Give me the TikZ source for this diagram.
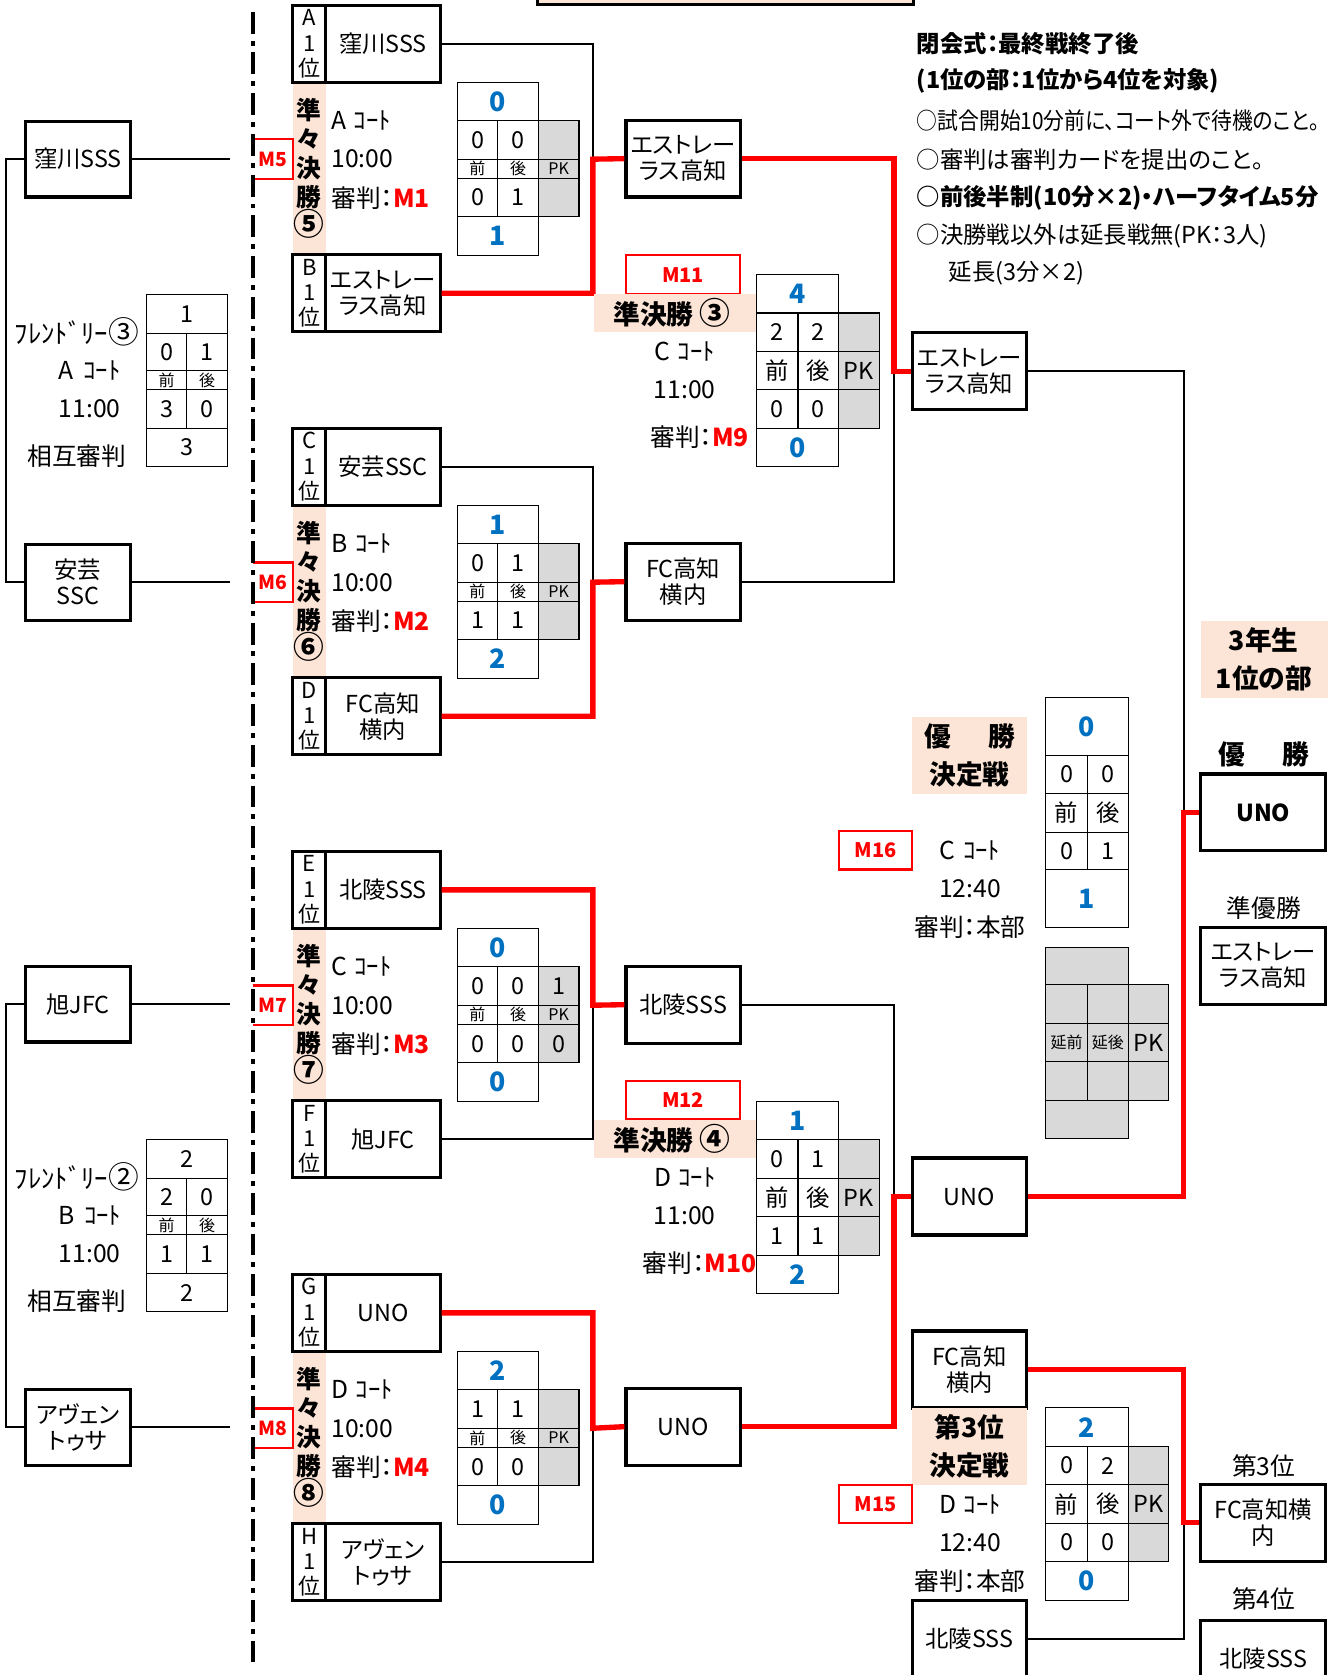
\documentclass[tikz,border=0pt]{standalone}
\usepackage{fontspec}
\setmainfont{Noto Sans CJK JP}[RawFeature=+palt]
\newfontfamily\narrowfont{Noto Sans CJK JP}[FakeStretch=0.89, RawFeature=+palt]
\usepackage{tikz}
\usetikzlibrary{positioning}
\definecolor{Peach}{RGB}{252,228,214}
\definecolor{Cell}{RGB}{217,217,217}
\definecolor{Score}{RGB}{0,112,192}
\definecolor{Mred}{RGB}{255,0,0}
\newcommand{\circnum}[1]{{\fontsize{23pt}{20pt}\selectfont #1}}

\begin{document}
\begin{tikzpicture}[x=0.8pt, y=-0.8pt]
			\tikzstyle{Team}	= [draw, line width=2.4pt, minimum width=85.6pt, minimum height=57.6pt, inner sep=0pt, align=center, font=\fontsize{17.5pt}{19.5pt}\selectfont]
			\tikzstyle{Side}	= [Team, minimum width=78.4pt, minimum height=56.8pt]
			\tikzstyle{Prize}	= [Team, minimum width=93.6pt]
			\tikzstyle{Letter}	= [draw, line width=2.4pt, minimum width=24.8pt, minimum height=57.6pt, inner sep=0pt, align=center, font=\fontsize{16.5pt}{19pt}\selectfont]
			\tikzstyle{Info}	= [inner sep=0pt, anchor=west, font=\fontsize{18.5pt}{20pt}\selectfont]
			\tikzstyle{Txt}		= [inner sep=0pt, align=center, font=\fontsize{18.5pt}{20pt}\selectfont]
			\tikzstyle{Head}	= [inner sep=0pt, align=center, font=\fontsize{20pt}{28.8pt}\selectfont\bfseries]
			\tikzstyle{Mark}	= [inner sep=0pt, text=Mred, font=\fontsize{14.5pt}{16pt}\selectfont\bfseries]
			\tikzstyle{MarkLine}= [draw=Mred, line width=1.6pt]
			\tikzstyle{Win}		= [line width=4pt, Mred]
			\tikzstyle{Lose}	= [line width=1.6pt, black]
			\tikzstyle{Tbl}		= [line width=0.8pt]
			\tikzstyle{Num}		= [inner sep=0pt, font=\fontsize{17.5pt}{19pt}\selectfont]
			\tikzstyle{Goal}	= [inner sep=0pt, text=Score, font=\fontsize{20pt}{22pt}\selectfont\bfseries]
			\tikzstyle{Half}	= [inner sep=0pt, font=\fontsize{12pt}{13pt}\selectfont]
			\tikzstyle{Note}	= [inner sep=0pt, anchor=west, font=\fontsize{17.5pt}{19pt}\selectfont]
			\tikzstyle{BNote}	= [Note, font=\fontsize{17.5pt}{19pt}\selectfont\bfseries]

			\useasboundingbox (0,0) rectangle (1243,1568);

			% heading box and notes
			\filldraw[fill=Peach, line width=2.4pt] (503,-20) rectangle (855,4);
			\node (n1) at (858,41) [BNote] {閉会式：最終戦終了後};
			\node (n2) at (858,76) [BNote] {(1位の部：1位から4位を対象)};
			\node (n3) at (858,113) [Note, font=\narrowfont\fontsize{17.5pt}{19pt}\selectfont] {○試合開始10分前に、コート外で待機のこと。};
			\node (n4) at (858,149) [Note] {○審判は審判カードを提出のこと。};
			\node (n5) at (858,185) [BNote] {○前後半制(10分×2)・ハーフタイム5分};
			\node (n6) at (858,221) [Note] {○決勝戦以外は延長戦無(PK：3人)};
			\node (n7) at (888,256) [Note] {延長(3分×2)};

			% friendly matches
			\node (l1) at (73,149) [Side] {窪川SSS};
			\node (l2) at (73,545) [Side] {安芸\\SSC};
			\node (l3) at (73,940) [Side] {旭JFC};
			\node (l4) at (73,1336) [Side] {アヴェン\\トゥサ};
			\coordinate (e1) at (215,149);
			\coordinate (e2) at (215,545);
			\coordinate (e3) at (215,940);
			\coordinate (e4) at (215,1336);
			\draw (l1.west) -- ++(-17,0) |- (l2.west) [Lose];
			\draw (l3.west) -- ++(-17,0) |- (l4.west) [Lose];
			\draw (l1.east) -- (e1) [Lose];
			\draw (l2.east) -- (e2) [Lose];
			\draw (l3.east) -- (e3) [Lose];
			\draw (l4.east) -- (e4) [Lose];

			\foreach \n/\y/\tp/\ha/\hb/\ka/\kb/\bt/\fr/\ct in {fa/276/1/0/1/3/0/3/③/A, fb/1067/2/2/0/1/1/2/②/B}
			{
				\begin{scope}[shift={(0,\y)}]
					\draw[Tbl] (137,0) rectangle (213,36) (137,36) rectangle (213,125) (137,71) -- (213,71) (137,89) -- (213,89) (175,36) -- (175,125) (137,125) rectangle (213,161);
					\node (\n g) at (175,18) [Num] {\tp};
					\node (\n a) at (156,53.5) [Num] {\ha};
					\node (\n b) at (194,53.5) [Num] {\hb};
					\node (\n c) at (156,80) [Half] {前};
					\node (\n d) at (194,80) [Half] {後};
					\node (\n e) at (156,107) [Num] {\ka};
					\node (\n f) at (194,107) [Num] {\kb};
					\node (\n k) at (175,143) [Num] {\bt};
					\node (\n l) at (72,35) [Txt, font=\fontsize{20pt}{22pt}\selectfont] {ﾌﾚﾝﾄﾞﾘｰ\circnum{\fr}};
					\node (\n m) at (84,71) [Txt] {\ct\hspace{0.4em}ｺｰﾄ};
					\node (\n t) at (84,107) [Txt] {11:00};
					\node (\n r) at (72,151) [Txt] {相互審判};
				\end{scope}
			}

			% quarter final winners
			\node (w1) at (639.5,148.5) [Team] {エストレー\\ラス高知};
			\node (w2) at (639.5,544.5) [Team] {FC高知\\横内};
			\node (w3) at (639.5,940.5) [Team] {北陵SSS};
			\node (w4) at (639.5,1335.5) [Team] {UNO};

			% quarter finals
			\foreach \i/\la/\lb/\ta/\tb/\ct/\rf/\mn/\cn/\lo/\wi in {
				1/A/B/窪川SSS/エストレー\\ラス高知/A/M1/M5/⑤/a/b,
				2/C/D/安芸SSC/FC高知\\横内/B/M2/M6/⑥/a/b,
				3/E/F/北陵SSS/旭JFC/C/M3/M7/⑦/b/a,
				4/G/H/UNO/アヴェン\\トゥサ/D/M4/M8/⑧/b/a}
			{
				\begin{scope}[shift={(0,{396*(\i-1)})}]
					\fill[Peach] (274,77) rectangle (305,238);
					\node (ql\i a) at (289.5,41) [Letter] {\la\\1\\位};
					\node (qa\i) at (358.5,41) [Team] {\ta};
					\node (qs\i) at (289.5,157.5) [Head, font=\fontsize{18.5pt}{21.6pt}\selectfont\bfseries] {準\\々\\決\\勝\\\circnum{\cn}};
					\node (ql\i b) at (289.5,274.5) [Letter] {\lb\\1\\位};
					\node (qb\i) at (358.5,274.5) [Team] {\tb};
					\node (qc\i) at (310,113) [Info] {\ct\hspace{0.3em}ｺｰﾄ};
					\node (qt\i) at (310,149) [Info] {10:00};
					\node (qr\i) at (310,185) [Info] {審判：\textcolor{Mred}{\bfseries\rf}};
					\node (qm\i) at (255.5,149) [Mark, minimum width=30pt, minimum height=29.2pt] {\mn};
					\draw (qm\i.north west) -| (qm\i.south east) -- (qm\i.south west) [MarkLine];
					% score table
					\draw[Tbl] (428,77) rectangle (504,113) (428,203) rectangle (504,239);
					\filldraw[Tbl, fill=Cell] (504,113) rectangle (542,203);
					\draw[Tbl] (428,113) rectangle (504,203) (428,149) -- (542,149) (428,167) -- (542,167) (466,113) -- (466,203);
					\node (qh\i a) at (447,158) [Half] {前};
					\node (qh\i b) at (485,158) [Half] {後};
					\node (qh\i c) at (523,158) [Half] {PK};
					% connectors
					\coordinate (qj\i) at (555,149);
					\draw (q\lo\i.east) -| (qj\i) [Lose];
					\draw (q\wi\i.east) -| (qj\i) -- (w\i.west) [Win];
				\end{scope}
			}
			\foreach \i/\tp/\ha/\hb/\hp/\ka/\kb/\kp/\bt in {1/0/0/0/{}/0/1/{}/1, 2/1/0/1/{}/1/1/{}/2, 3/0/0/0/1/0/0/0/0, 4/2/1/1/{}/0/0/{}/0}
			{
				\begin{scope}[shift={(0,{396*(\i-1)})}]
					\node (qg\i) at (466,95) [Goal] {\tp};
					\node (qn\i a) at (447,131) [Num] {\ha};
					\node (qn\i b) at (485,131) [Num] {\hb};
					\node (qn\i c) at (523,131) [Num] {\hp};
					\node (qn\i d) at (447,185) [Num] {\ka};
					\node (qn\i e) at (485,185) [Num] {\kb};
					\node (qn\i f) at (523,185) [Num] {\kp};
					\node (qk\i) at (466,221) [Goal] {\bt};
				\end{scope}
			}

			% dash-dot divider
			\draw[line width=3.2pt, dash pattern=on 16.4pt off 5.2pt on 3.7pt off 5.2pt] (236.5,11) -- (236.5,1556);

			% semi finals
			\node (s1) at (907.5,347.5) [Team] {エストレー\\ラス高知};
			\node (s2) at (907.5,1120) [Team] {UNO};
			\coordinate (sj1) at (837,347.5);
			\coordinate (sj2) at (837,1120);
			\draw (w2.east) -| (sj1) [Lose];
			\draw (w1.east) -| (sj1) -- (s1.west) [Win];
			\draw (w3.east) -| (sj2) [Lose];
			\draw (w4.east) -| (sj2) -- (s2.west) [Win];

			\node (m11) at (639.5,257) [Mark, font=\fontsize{15pt}{16pt}\selectfont\bfseries] {M11};
			\draw (586,239) rectangle (693,275) [MarkLine];
			\fill[Peach] (556,275) rectangle (708,311);
			\node (sh1) at (629,293) [Head] {準決勝 \circnum{③}};
			\node (sc1) at (641,329) [Txt] {C\hspace{0.3em}ｺｰﾄ};
			\node (st1) at (641,365) [Txt] {11:00};
			\node (sr1) at (655,409) [Txt] {審判：\textcolor{Mred}{\bfseries M9}};

			\node (m12) at (639.5,1030) [Mark, font=\fontsize{15pt}{16pt}\selectfont\bfseries] {M12};
			\draw (586,1012) rectangle (693,1048) [MarkLine];
			\fill[Peach] (556,1048) rectangle (708,1084);
			\node (sh2) at (629,1066) [Head] {準決勝 \circnum{④}};
			\node (sc2) at (641,1102) [Txt] {D\hspace{0.3em}ｺｰﾄ};
			\node (st2) at (641,1138) [Txt] {11:00};
			\node (sr2) at (655,1182) [Txt] {審判：\textcolor{Mred}{\bfseries M10}};

			% tables with PK column
			\foreach \n/\x/\y/\tp/\ha/\hb/\ka/\kb/\bt in {pa/708/257/4/2/2/0/0/0, pb/708/1031/1/0/1/1/1/2, pc/979/1318/2/0/2/0/0/0}
			{
				\begin{scope}[shift={(\x,\y)}]
					\draw[Tbl] (0,0) rectangle (77,36) (0,144) rectangle (77,180);
					\filldraw[Tbl, fill=Cell] (77,36) rectangle (115,144);
					\draw[Tbl] (0,36) rectangle (77,144) (0,72) -- (115,72) (0,108) -- (115,108) (39,36) -- (39,144);
					\node (\n g) at (38.5,18) [Goal] {\tp};
					\node (\n a) at (19.5,54) [Num] {\ha};
					\node (\n b) at (58,54) [Num] {\hb};
					\node (\n c) at (19.5,90) [Num] {前};
					\node (\n d) at (58,90) [Num] {後};
					\node (\n e) at (96,90) [Num] {PK};
					\node (\n f) at (19.5,126) [Num] {\ka};
					\node (\n h) at (58,126) [Num] {\kb};
					\node (\n k) at (38.5,162) [Goal] {\bt};
				\end{scope}
			}

			% final
			\fill[Peach] (854,671) rectangle (961,743);
			\node (fh) at (907.5,707) [Head] {優\hspace{1.4em}勝\\決定戦};
			\node (m16) at (819.5,796) [Mark, font=\fontsize{15pt}{16pt}\selectfont\bfseries] {M16};
			\draw (785,778) rectangle (854,814) [MarkLine];
			\node (fc) at (908,796) [Txt] {C\hspace{0.3em}ｺｰﾄ};
			\node (ft) at (908,832) [Txt] {12:40};
			\node (fr) at (908,868) [Txt] {審判：本部};
			\draw[Tbl] (979,653) rectangle (1056,707) (979,707) rectangle (1056,814) (979,743) -- (1056,743) (979,779) -- (1056,779) (1018,707) -- (1018,814) (979,814) rectangle (1056,868);
			\node (fg) at (1017.5,680) [Goal] {0};
			\node (fa) at (998.5,725) [Num] {0};
			\node (fb) at (1037,725) [Num] {0};
			\node (fm) at (998.5,761) [Num] {前};
			\node (fn) at (1037,761) [Num] {後};
			\node (fd) at (998.5,797) [Num] {0};
			\node (fe) at (1037,797) [Num] {1};
			\node (fk) at (1017.5,841) [Goal] {1};
			\filldraw[Tbl, fill=Cell] (979,887) rectangle (1056,922) (979,922) rectangle (1094,1030) (979,1030) rectangle (1056,1066);
			\draw[Tbl] (979,958) -- (1094,958) (979,994) -- (1094,994) (1018,922) -- (1018,1030) (1056,922) -- (1056,1030);
			\node (xa) at (998.5,976) [Half] {延前};
			\node (xb) at (1037,976) [Half] {延後};
			\node (xc) at (1075,976) [Num] {PK};

			% champion and runner-up
			\fill[Peach] (1124,581) rectangle (1243,653);
			\node (grade) at (1183,617) [Head] {3年生\\1位の部};
			\node (cl) at (1183,706) [Head] {優\hspace{1.4em}勝};
			\node (champ) at (1182.5,760.5) [Prize, font=\fontsize{17.5pt}{19pt}\selectfont\bfseries] {UNO};
			\node (rl) at (1183,850) [Txt] {準優勝};
			\node (runner) at (1182.5,904) [Prize] {エストレー\\ラス高知};
			\coordinate (cj) at (1108,760.5);
			\draw (s1.east) -| (cj) [Lose];
			\draw (s2.east) -| (cj) -- (champ.west) [Win];

			% third place
			\node (f3a) at (907.5,1282) [Team] {FC高知\\横内};
			\fill[Peach] (854,1318) rectangle (961,1390);
			\node (th) at (907.5,1354) [Head] {第3位\\決定戦};
			\node (m15) at (819.5,1408) [Mark, font=\fontsize{15pt}{16pt}\selectfont\bfseries] {M15};
			\draw (785,1390) rectangle (854,1426) [MarkLine];
			\node (tc) at (908,1408) [Txt] {D\hspace{0.3em}ｺｰﾄ};
			\node (tt) at (908,1444) [Txt] {12:40};
			\node (tr) at (908,1480) [Txt] {審判：本部};
			\node (f3b) at (907.5,1534) [Team] {北陵SSS};
			\node (p3) at (1183,1372) [Txt] {第3位};
			\node (third) at (1182.5,1425.5) [Prize] {FC高知横\\内};
			\node (p4) at (1183,1497) [Txt] {第4位};
			\node (fourth) at (1182.5,1553) [Prize] {北陵SSS};
			\coordinate (tj) at (1108,1425.5);
			\draw (f3b.east) -| (tj) [Lose];
			\draw (f3a.east) -| (tj) -- (third.west) [Win];
\end{tikzpicture}
\end{document}
